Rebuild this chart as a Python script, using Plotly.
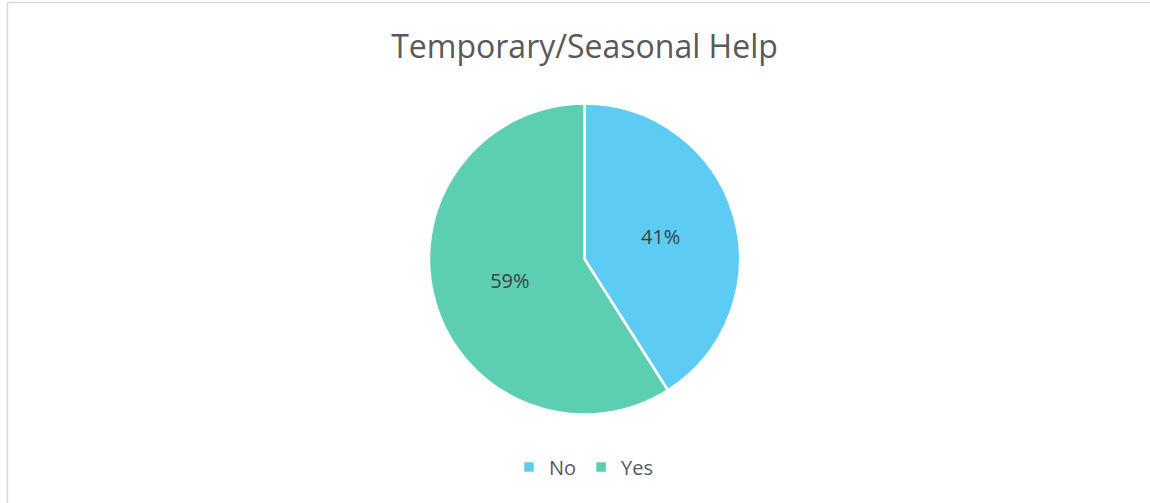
import plotly.graph_objects as go

labels = ["No", "Yes"]
values = [41, 59]
colors = ["#5DCCF4", "#5CCFB3"]
title_text = "Temporary/Seasonal Help"

W, H = 1150, 503
cx, cy, r = 584.5, 259, 155.5

fig = go.Figure(go.Pie(
    labels=labels, values=values, sort=False, direction="clockwise", rotation=0,
    marker=dict(colors=colors, line=dict(color="white", width=2.5)),
    textinfo="percent", textposition="inside", insidetextorientation="horizontal",
    textfont=dict(family="Open Sans", size=20, color="#404040"),
    domain=dict(x=[(cx - r) / W, (cx + r) / W], y=[(H - cy - r) / H, (H - cy + r) / H]),
    hoverinfo="label+percent",
))

fig.update_layout(
    width=W, height=H, margin=dict(l=0, r=0, t=0, b=0),
    paper_bgcolor="white", plot_bgcolor="white",
    title=dict(text=title_text, x=cx / W, xanchor="center", y=1 - 47 / H, yanchor="middle",
               font=dict(family="Open Sans", size=32, color="#595959")),
    legend=dict(orientation="h", x=584 / W, xanchor="center", y=1 - 467 / H, yanchor="middle",
                font=dict(family="Open Sans", size=20, color="#595959"), itemwidth=30),
    shapes=[
        dict(type="line", xref="paper", yref="paper", x0=7.5 / W, x1=1.0, y0=1 - 2.5 / H, y1=1 - 2.5 / H,
             line=dict(color="#D9D9D9", width=1.5)),
        dict(type="line", xref="paper", yref="paper", x0=7.5 / W, x1=7.5 / W, y0=0, y1=1 - 2.5 / H,
             line=dict(color="#D9D9D9", width=1.5)),
    ],
)

fig.write_html("out.html", config={"displayModeBar": False},
               post_script="document.body.style.margin='0';document.body.style.overflow='hidden';")
